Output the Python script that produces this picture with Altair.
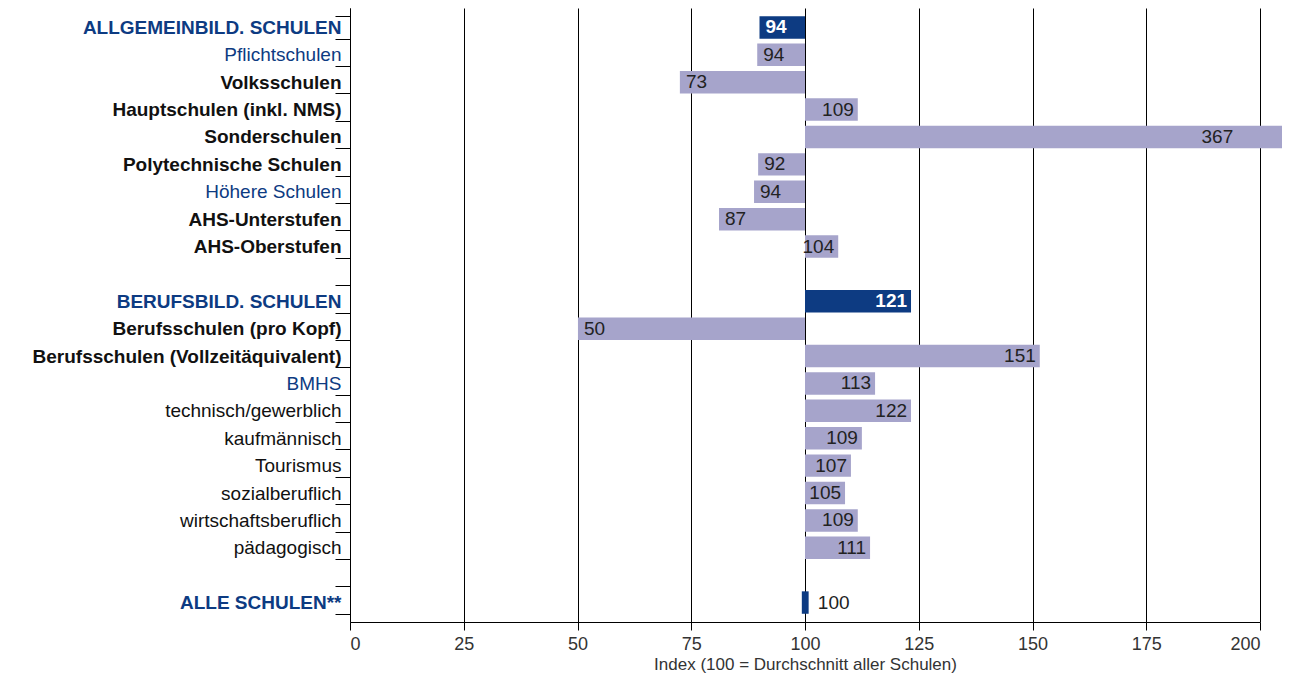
import altair as alt
import pandas as pd

labels = ["ALLGEMEINBILD. SCHULEN","Pflichtschulen","Volksschulen","Hauptschulen (inkl. NMS)","Sonderschulen",
          "Polytechnische Schulen","Höhere Schulen","AHS-Unterstufen","AHS-Oberstufen"," ",
          "BERUFSBILD. SCHULEN","Berufsschulen (pro Kopf)","Berufsschulen (Vollzeitäquivalent)","BMHS",
          "technisch/gewerblich","kaufmännisch","Tourismus","sozialberuflich","wirtschaftsberuflich","pädagogisch",
          "  ","ALLE SCHULEN**"]
values = [94,94,73,109,367,92,94,87,104,None,121,50,151,113,122,109,107,105,109,111,None,100]
# bar ends as drawn in the reference
bar_ends = [90,89.5,72.5,111.6,206.6,89.7,88.8,81.1,107.3,None,123.3,50.1,151.6,115.4,123.3,112.5,110.1,108.8,111.6,114.3,None,100.8]
kinds = ["head","sub","bold","bold","bold","bold","sub","bold","bold","blank","head","bold","bold","sub",
         "reg","reg","reg","reg","reg","reg","blank","head"]

rows = []
for l, v, e, k in zip(labels, values, bar_ends, kinds):
    if v is None:
        continue
    if l == "ALLE SCHULEN**":
        x1, x2 = 99.3, e
        tx, al = 101.5, "left"
    else:
        x1, x2 = 100, e
        if v >= 100:
            tx, al = min(e, 195), "right"
        else:
            tx, al = e, "left"
    white = (k == "head" and l != "ALLE SCHULEN**")
    rows.append(dict(label=l, v=v, x1=x1, x2=x2, tx=tx, al=al, dark=(k == "head"), white=white))
df = pd.DataFrame(rows)

heads = [l for l, k in zip(labels, kinds) if k == "head"]
subs = [l for l, k in zip(labels, kinds) if k == "sub"]
bolds = [l for l, k in zip(labels, kinds) if k == "bold"]

FONT = "Liberation Sans"
DARK = "#0d3b82"
LIGHT = "#a6a4cb"

yscale = alt.Scale(domain=labels, paddingInner=0.18, paddingOuter=0.3)
y = alt.Y("label:N", sort=labels, scale=yscale,
          axis=alt.Axis(title=None, tickBand="extent", tickSize=15, labelPadding=-6, domain=True,
                        domainColor="black", tickColor="black", labelFont=FONT, labelFontSize=19,
                        labelColor=alt.ExprRef(f"indexof({heads+subs}, datum.value) >= 0 ? '{DARK}' : '#111'"),
                        labelFontWeight=alt.ExprRef(f"indexof({heads+bolds}, datum.value) >= 0 ? 'bold' : 'normal'"),
                        labelLimit=400))
xs = alt.Scale(domain=[0, 200], nice=False)

bars = alt.Chart(df).mark_bar(clip=False).encode(
    x=alt.X("x1:Q", scale=xs, axis=alt.Axis(values=list(range(0, 201, 25)), grid=True, gridColor="black",
            gridWidth=1, domainColor="black", tickColor="black", tickSize=8, labelPadding=5, labelFont=FONT,
            labelFontSize=18, labelColor="#333", title="Index (100 = Durchschnitt aller Schulen)", titleFont=FONT,
            titleFontSize=17, titleFontWeight="normal", titleColor="#333", titlePadding=3)),
    x2="x2:Q", y=y,
    color=alt.condition("datum.dark", alt.value(DARK), alt.value(LIGHT)))

def txt(align, cond, color, weight):
    return alt.Chart(df).transform_filter(cond).mark_text(align=align, font=FONT, fontSize=19,
        dx=-4 if align == "right" else 6, color=color, fontWeight=weight).encode(
        x=alt.X("tx:Q", scale=xs), y=alt.Y("label:N", sort=labels, scale=yscale),
        text="v:Q")

chart = alt.layer(
    bars,
    txt("right", "datum.al == 'right' && !datum.white", "#222", "normal"),
    txt("left", "datum.al == 'left' && !datum.white", "#222", "normal"),
    txt("right", "datum.al == 'right' && datum.white", "white", "bold"),
    txt("left", "datum.al == 'left' && datum.white", "white", "bold"),
).properties(
    width=910, height=614, autosize="none",
    padding={"left": 342, "top": 0, "right": 22, "bottom": 55}
).configure_view(stroke=None).configure_axisY(grid=False)

chart.save("out.html", embed_options={"renderer": "svg", "actions": False})
